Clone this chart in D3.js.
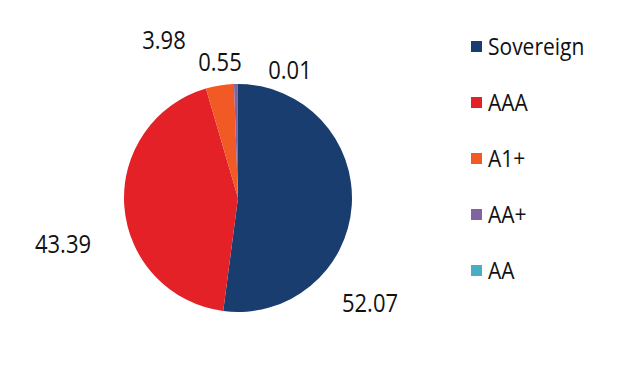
<!DOCTYPE html>
<html>
<head>
<meta charset="utf-8">
<script src="https://cdn.jsdelivr.net/npm/d3@7"></script>
<style>
  body { margin: 0; background: #fff; }
  text { font-family: "Open Sans", sans-serif; fill: #111; }
</style>
</head>
<body>
<div id="chart"></div>
<script>
// rating categories and allocation (%)
const categories = ["Sovereign", "AAA", "A1+", "AA+", "AA"];
const values = [52.07, 43.39, 3.98, 0.55, 0.01];
const colors = ["#1a3d6f", "#e32127", "#f15a24", "#8064a2", "#4bacc6"];

const width = 626, height = 386;
const cx = 238, cy = 198, radius = 114;
const stretch = 1.15; // source font renders slightly tall

const svg = d3.select("#chart").append("svg")
    .attr("width", width)
    .attr("height", height);

const color = d3.scaleOrdinal().domain(categories).range(colors);

const pie = d3.pie().sort(null).value(d => d.value);
const arc = d3.arc().innerRadius(0).outerRadius(radius);

const data = categories.map((c, i) => ({ name: c, value: values[i] }));
const arcs = pie(data);

const g = svg.append("g").attr("transform", "translate(" + cx + "," + cy + ")");

g.selectAll("path")
    .data(arcs)
    .enter().append("path")
    .attr("d", arc)
    .attr("fill", d => color(d.data.name));

// label placement (best-fit style, offset from centre)
const labelOffset = {
    "Sovereign": [132, 114],
    "AAA": [-175, 55],
    "A1+": [-74, -149],
    "AA+": [-18, -127],
    "AA": [52, -119]
};

g.selectAll(".lbl")
    .data(arcs)
    .enter().append("g")
    .attr("class", "lbl")
    .attr("transform", d => "translate(" + labelOffset[d.data.name][0] + "," + labelOffset[d.data.name][1] + ")")
    .append("text")
    .attr("transform", "scale(1," + stretch + ")")
    .attr("text-anchor", "middle")
    .style("font-size", "22px")
    .text(d => d.data.value.toFixed(2));

// legend
const legend = svg.append("g").attr("transform", "translate(471,41)");
const row = legend.selectAll("g")
    .data(categories)
    .enter().append("g")
    .attr("transform", (d, i) => "translate(0," + i * 56 + ")");

row.append("rect")
    .attr("width", 11)
    .attr("height", 11)
    .attr("fill", d => color(d));

row.append("g")
    .attr("transform", "translate(17,14)")
    .append("text")
    .attr("transform", "scale(1," + stretch + ")")
    .style("font-size", "21px")
    .text(d => d);
</script>
</body>
</html>
